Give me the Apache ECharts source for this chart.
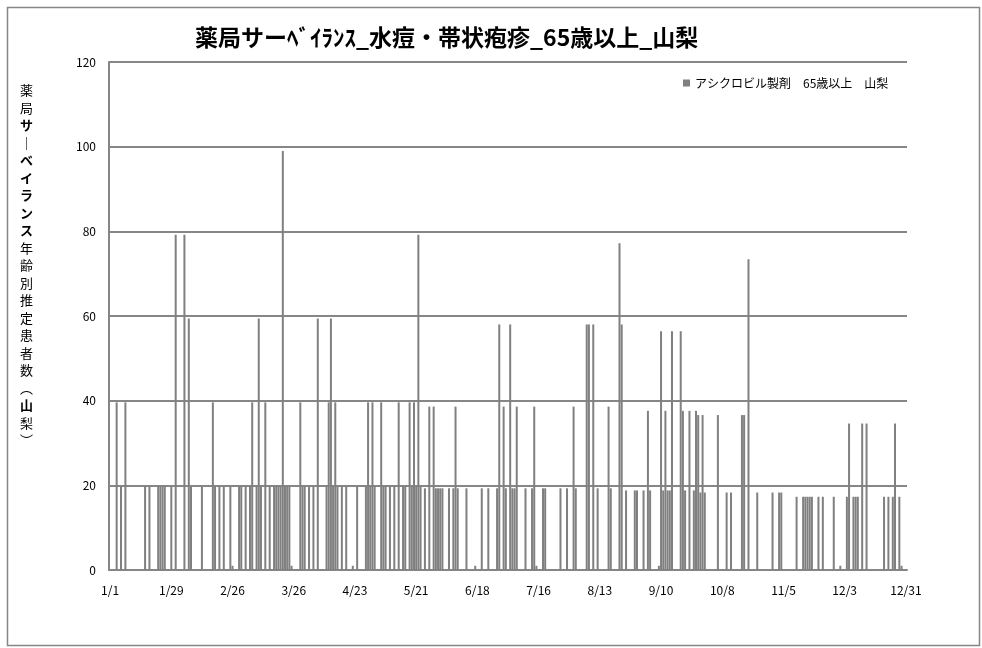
<!DOCTYPE html>
<html><head><meta charset="utf-8">
<script src="https://cdn.jsdelivr.net/npm/echarts@6/dist/echarts.min.js"></script>
<style>html,body{margin:0;padding:0;background:#fff}#c{width:982px;height:648px}</style>
</head><body><div id="c"></div>
<script>
const monthDays = [31,28,31,30,31,30,31,31,30,31,30,31];
const jan = [0,0,0,39.6,0,19.8,0,39.6,0,0,0,0,0,0,0,0,19.8,0,19.8,0,0,0,19.8,19.8,19.8,19.8,0,0,19.8,0,79.2];
const feb = [0,0,0,79.2,0,59.4,19.8,0,0,0,0,19.8,0,0,0,0,39.6,19.8,0,19.8,0,19.8,0,0,19.8,1,0,0];
const mar = [19.8,19.8,0,19.8,0,19.8,39.6,0,19.8,59.4,19.8,0,39.6,0,19.8,0,19.8,19.8,19.8,19.8,99.0,19.8,19.8,19.8,1,0,0,0,39.6,19.8,19.8];
const apr = [0,19.8,0,19.8,0,59.4,0,0,0,19.8,39.6,59.4,19.8,39.6,19.8,0,19.8,0,19.8,0,0,1,0,19.8,0,0,0,19.8,39.6,19.8];
const may = [39.6,19.8,0,0,39.6,19.8,19.8,0,19.8,0,19.8,0,39.6,0,19.8,19.8,0,39.6,19.8,39.6,19.8,79.2,19.8,0,19.3,0,38.6,0,38.6,19.3,19.3];
const jun = [19.3,19.3,0,0,19.3,0,19.3,38.6,19.3,0,0,0,19.3,0,0,0,1,0,0,19.3,0,0,19.3,0,0,0,19.3,58,0,38.6];
const jul = [19.3,0,58,19.3,19.3,38.6,0,0,0,19.3,0,0,19.3,38.6,1,0,0,19.3,19.3,0,0,0,0,0,0,19.3,0,0,19.3,0,0];
const aug = [38.6,19.3,0,0,0,0,58,58,0,58,0,19.3,0,0,0,0,38.6,19.3,0,0,0,77.2,58,0,18.8,0,0,0,18.8,18.8,0];
const sep = [0,18.8,0,37.6,18.8,0,0,0,1,56.4,18.8,37.6,18.8,18.8,56.4,0,0,0,56.4,37.6,18.8,0,37.6,0,18.8,37.6,36.6,18.3,36.6,18.3];
const oct = [0,0,0,0,0,36.6,0,0,0,18.3,0,18.3,0,0,0,0,36.6,36.6,0,73.4,0,0,0,18.3,0,0,0,0,0,0,18.3];
const nov = [0,0,18.3,18.3,0,0,0,0,0,0,17.3,0,0,17.3,17.3,17.3,17.3,17.3,0,0,17.3,0,17.3,0,0,0,0,17.3,0,0];
const dec = [1,0,0,17.3,34.6,0,17.3,17.3,17.3,0,34.6,0,34.6,0,0,0,0,0,0,0,17.3,0,17.3,0,17.3,34.6,0,17.3,1,0,0];
const yTicks = [0,20,40,60,80,100,120];
const seriesName = 'アシクロビル製剤　65歳以上　山梨';
const titleText = '薬局サーﾍﾞｲﾗﾝｽ_水痘・帯状疱疹_65歳以上_山梨';

const categories = [];
monthDays.forEach((n, m) => { for (let d = 1; d <= n; d++) categories.push((m + 1) + '/' + d); });
const values = [].concat(jan, feb, mar, apr, may, jun, jul, aug, sep, oct, nov, dec);

const yChars = ['薬','局','サ','｜','ベ','イ','ラ','ン','ス','年','齢','別','推','定','患','者','数','︵','山','梨','︶'];
const boldIdx = new Set([2,3,4,5,6,7,8,18]);
const yNameText = yChars.map((c, i) => (boldIdx.has(i) ? '{b|' : '{n|') + c + '}').join('\n');

const FONT = '"Noto Sans CJK JP", sans-serif';
const chart = echarts.init(document.getElementById('c'), null, {renderer: 'canvas'});
chart.setOption({
  animation: false,
  backgroundColor: '#fff',
  textStyle: {fontFamily: FONT},
  title: {
    text: titleText, left: 190, top: 21,
    textStyle: {fontSize: 23, fontWeight: 'bold', color: '#000', fontFamily: FONT}
  },
  legend: {
    data: [seriesName], left: 678, top: 72, icon: 'rect', itemWidth: 7, itemHeight: 7, itemGap: 4,
    textStyle: {fontSize: 12, color: '#000', fontFamily: FONT}
  },
  grid: {left: 109, right: 75, top: 62, bottom: 78, containLabel: false},
  xAxis: {
    type: 'category', data: categories, boundaryGap: true,
    axisLine: {lineStyle: {color: '#868686', width: 2}},
    axisTick: {show: false},
    axisLabel: {interval: 27, color: '#000', fontSize: 12, margin: 14, fontFamily: FONT},
    splitLine: {show: false}
  },
  yAxis: {
    type: 'value', min: yTicks[0], max: yTicks[yTicks.length - 1], interval: 20,
    axisLine: {show: true, lineStyle: {color: '#868686', width: 2}},
    axisTick: {show: false},
    axisLabel: {color: '#000', fontSize: 12, margin: 13, fontFamily: FONT},
    splitLine: {lineStyle: {color: '#868686', width: 2}}
  },
  series: [{
    name: seriesName, type: 'bar', data: values,
    barCategoryGap: '8%',
    itemStyle: {color: '#808080'}
  }],
  graphic: [
    {type: 'rect', left: 5, top: 5, shape: {width: 972, height: 638}, style: {fill: 'none', stroke: '#868686', lineWidth: 1.5}, silent: true},
    {type: 'text', left: 20, top: 84, style: {
      text: yNameText, fill: '#000', align: 'center',
      rich: {
        n: {fontSize: 13, lineHeight: 17.5, fontFamily: FONT, fill: '#000', align: 'center'},
        b: {fontSize: 13, lineHeight: 17.5, fontWeight: 'bold', fontFamily: FONT, fill: '#000', align: 'center'}
      }
    }}
  ]
});
</script>
</body></html>
